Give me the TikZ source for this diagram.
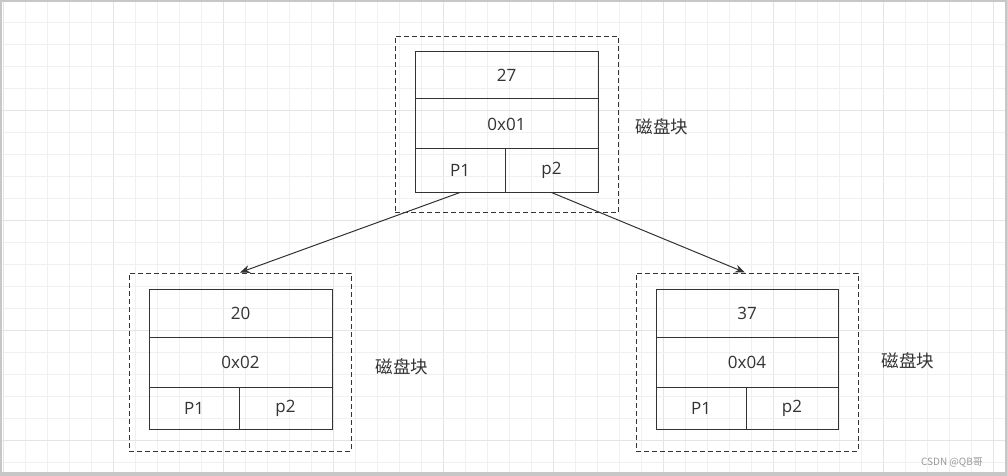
\documentclass[tikz,border=0pt]{standalone}
\usepackage{fontspec}
\setmainfont{Open Sans}
\newfontfamily\cjk{Noto Sans CJK SC}
\newfontfamily\latin{Open Sans}
\usetikzlibrary{arrows.meta}
\definecolor{ink}{HTML}{333333}
\definecolor{gridminor}{HTML}{F0F0F0}
\definecolor{gridmajor}{HTML}{E4E4E4}
\begin{document}
\begin{tikzpicture}[x=1pt,y=-1pt,
  cell/.style={draw=ink, line width=1pt, inner sep=0pt, text=ink,
    font=\latin\fontsize{17}{17}\selectfont},
  blockbox/.style={draw=ink, line width=1pt, dash pattern=on 5pt off 3pt, inner sep=0pt},
  lbl/.style={text=ink, font=\cjk\fontsize{17.5}{17.5}\selectfont, inner sep=0pt},
  conn/.style={draw=ink, line width=1pt, -{Stealth[length=10pt,width=8pt]}}]
\useasboundingbox (0,0) rectangle (1007,476);
\fill[white] (0,0) rectangle (1007,476);
% grid
\foreach \k in {0,...,45} {
  \pgfmathsetmacro{\xx}{3.5+22*\k}
  \pgfmathtruncatemacro{\m}{mod(\k,5)}
  \ifnum\m=0
    \draw[gridmajor, line width=1pt] (\xx,0) -- (\xx,476);
  \else
    \draw[gridminor, line width=1pt] (\xx,0) -- (\xx,476);
  \fi
}
\foreach \k in {0,...,21} {
  \pgfmathsetmacro{\yy}{0.3+22*\k}
  \pgfmathtruncatemacro{\m}{mod(\k,5)}
  \ifnum\m=0
    \draw[gridmajor, line width=1pt] (0,\yy) -- (1007,\yy);
  \else
    \draw[gridminor, line width=1pt] (0,\yy) -- (1007,\yy);
  \fi
}
\draw[black!22, line width=2pt] (1,1) rectangle (1006,474);
\fill[black!22] (0,472) rectangle (1007,476);

% top block
\node[blockbox, minimum width=223pt, minimum height=176pt] (top) at (506.5,124.5) {};
\node[cell, minimum width=183pt, minimum height=47pt] (tkey) at (506.5,75.5) {27};
\node[cell, minimum width=183pt, minimum height=50pt] (taddr) at (506.5,124) {0x01};
\node[cell, minimum width=90pt, minimum height=43pt] (tp1) at (460,170.5) {P1};
\node[cell, minimum width=93pt, minimum height=43pt] (tp2) at (551.5,170.5) {p2};
\node[lbl] (tlbl) at (662,127) {磁盘块};

% left block
\node[blockbox, minimum width=222pt, minimum height=178pt] (left) at (240,362) {};
\node[cell, minimum width=183pt, minimum height=48pt] (lkey) at (240.5,313) {20};
\node[cell, minimum width=183pt, minimum height=50pt] (laddr) at (240.5,362) {0x02};
\node[cell, minimum width=90pt, minimum height=42pt] (lp1) at (194,408) {P1};
\node[cell, minimum width=93pt, minimum height=42pt] (lp2) at (285.5,408) {p2};
\node[lbl] (llbl) at (402,367) {磁盘块};

% right block
\node[blockbox, minimum width=222pt, minimum height=178pt] (right) at (747,362) {};
\node[cell, minimum width=182pt, minimum height=48pt] (rkey) at (747,313) {37};
\node[cell, minimum width=182pt, minimum height=50pt] (raddr) at (747,362) {0x04};
\node[cell, minimum width=90pt, minimum height=42pt] (rp1) at (701,408) {P1};
\node[cell, minimum width=92pt, minimum height=42pt] (rp2) at (792,408) {p2};
\node[lbl] (rlbl) at (908,361) {磁盘块};

% connectors
\draw[conn] (tp1.south) -- (left.north);
\draw[conn] (tp2.south) -- ([xshift=-2pt]right.north);

% watermark
\node[text=black!40, font=\cjk\fontsize{10}{10}\selectfont, inner sep=0pt] (wm) at (952,462) {CSDN @QB哥};
\end{tikzpicture}
\end{document}
